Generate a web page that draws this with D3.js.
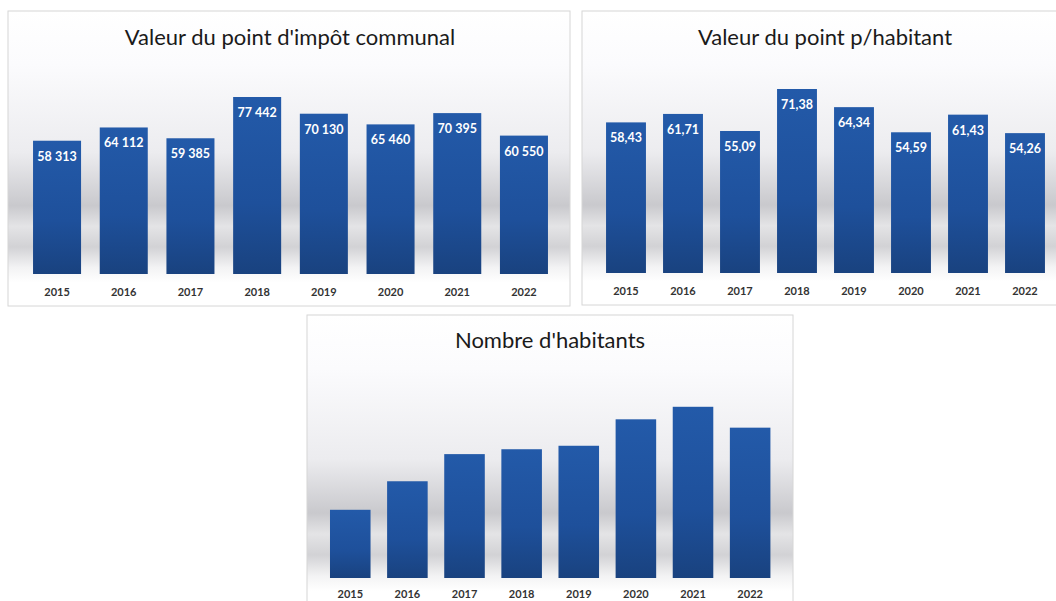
<!DOCTYPE html>
<html>
<head>
<meta charset="utf-8">
<script src="https://cdn.jsdelivr.net/npm/d3@7"></script>
<style>
  body { margin: 0; background: #fff; }
  svg { display: block; }
</style>
</head>
<body>
<script>
const years = ['2015', '2016', '2017', '2018', '2019', '2020', '2021', '2022'];
const impotValues = [58313, 64112, 59385, 77442, 70130, 65460, 70395, 60550];
const parHabitantValues = [58.43, 61.71, 55.09, 71.38, 64.34, 54.59, 61.43, 54.26];
const habitantsValues = [998, 1039, 1078, 1085, 1090, 1128, 1146, 1116];

const width = 1056;
const height = 601;

const fr = d3.formatLocale({ decimal: ',', thousands: '\u202f', grouping: [3], currency: ['', ' €'] });

const svg = d3.select('body').append('svg')
    .attr('width', width)
    .attr('height', height);

const defs = svg.append('defs');

const bg = defs.append('linearGradient')
    .attr('id', 'bg')
    .attr('x1', 0).attr('y1', 0).attr('x2', 0).attr('y2', 1);
[[0, '#ffffff'], [0.18, '#fbfbfd'], [0.48, '#ececef'], [0.66, '#c9c9cd'],
 [0.73, '#e4e4e6'], [0.8, '#d2d2d5'], [0.87, '#f3f3f4'], [0.92, '#ffffff'], [1, '#ffffff']]
  .forEach(s => bg.append('stop').attr('offset', s[0]).attr('stop-color', s[1]));

const barGrad = defs.append('linearGradient')
    .attr('id', 'bar')
    .attr('x1', 0).attr('y1', 0).attr('x2', 0).attr('y2', 1);
[[0, '#235aa9'], [0.6, '#1e509b'], [1, '#19427f']]
  .forEach(s => barGrad.append('stop').attr('offset', s[0]).attr('stop-color', s[1]));

function drawPanel(opts) {
  const g = svg.append('g');

  g.append('rect')
      .attr('x', opts.box[0]).attr('y', opts.box[1])
      .attr('width', opts.box[2]).attr('height', opts.box[3])
      .attr('fill', 'url(#bg)')
      .attr('stroke', '#d6d6d6');

  g.append('text')
      .attr('x', opts.titleX).attr('y', opts.titleY)
      .attr('text-anchor', 'middle')
      .style('font-family', 'Lato, "Open Sans", sans-serif')
      .style('font-size', '22px')
      .style('fill', '#1a1a1a')
      .text(opts.title);

  const x = d3.scaleBand()
      .domain(years)
      .range(opts.xRange)
      .paddingInner(opts.pad)
      .paddingOuter(opts.pad / 2);

  const y = d3.scaleLinear()
      .domain(opts.yDomain)
      .range(opts.yRange);

  const bars = g.selectAll('.bar')
      .data(opts.values)
    .enter().append('g')
      .attr('class', 'bar');

  bars.append('rect')
      .attr('x', (d, i) => x(years[i]))
      .attr('y', d => y(d))
      .attr('width', x.bandwidth())
      .attr('height', d => y(opts.yDomain[0]) - y(d))
      .attr('fill', 'url(#bar)');

  if (opts.fmt) {
    bars.append('text')
        .attr('x', (d, i) => x(years[i]) + x.bandwidth() / 2)
        .attr('y', d => y(d) + 20)
        .attr('text-anchor', 'middle')
        .style('font-family', 'Lato, "Open Sans", sans-serif')
        .style('font-weight', 'bold')
        .style('font-size', '12.5px')
        .style('fill', '#ffffff')
        .text(d => opts.fmt(d));
  }

  const axis = d3.axisBottom(x).tickSize(0).tickPadding(0);
  const ax = g.append('g')
      .attr('transform', 'translate(0,' + (y(opts.yDomain[0]) + opts.labelGap) + ')')
      .call(axis);
  ax.select('.domain').remove();
  ax.selectAll('text')
      .attr('dy', 0)
      .style('font-family', 'Lato, "Open Sans", sans-serif')
      .style('font-weight', 'bold')
      .style('font-size', '11px')
      .style('fill', '#333333');
}

drawPanel({
  title: "Valeur du point d'impôt communal",
  box: [8, 11, 562, 295],
  titleX: 290, titleY: 45,
  values: impotValues,
  xRange: [23.7, 557.3], pad: 0.28,
  yDomain: [0, 90000], yRange: [274, 274 - 90000 * 177 / 77442],
  fmt: fr.format(',d'),
  labelGap: 22
});

drawPanel({
  title: 'Valeur du point p/habitant',
  box: [582, 11, 490, 294],
  titleX: 825, titleY: 45,
  values: parHabitantValues,
  xRange: [597.5, 1053.5], pad: 0.3,
  yDomain: [0, 80], yRange: [273, 273 - 80 * 184 / 71.38],
  fmt: fr.format(',.2f'),
  labelGap: 22
});

drawPanel({
  title: "Nombre d'habitants",
  box: [307, 315, 486, 300],
  titleX: 550, titleY: 348,
  values: habitantsValues,
  xRange: [321.7, 778.7], pad: 0.29,
  yDomain: [900, 1200], yRange: [578, 578 - 300 * 0.696],
  fmt: null,
  labelGap: 20
});
</script>
</body>
</html>
